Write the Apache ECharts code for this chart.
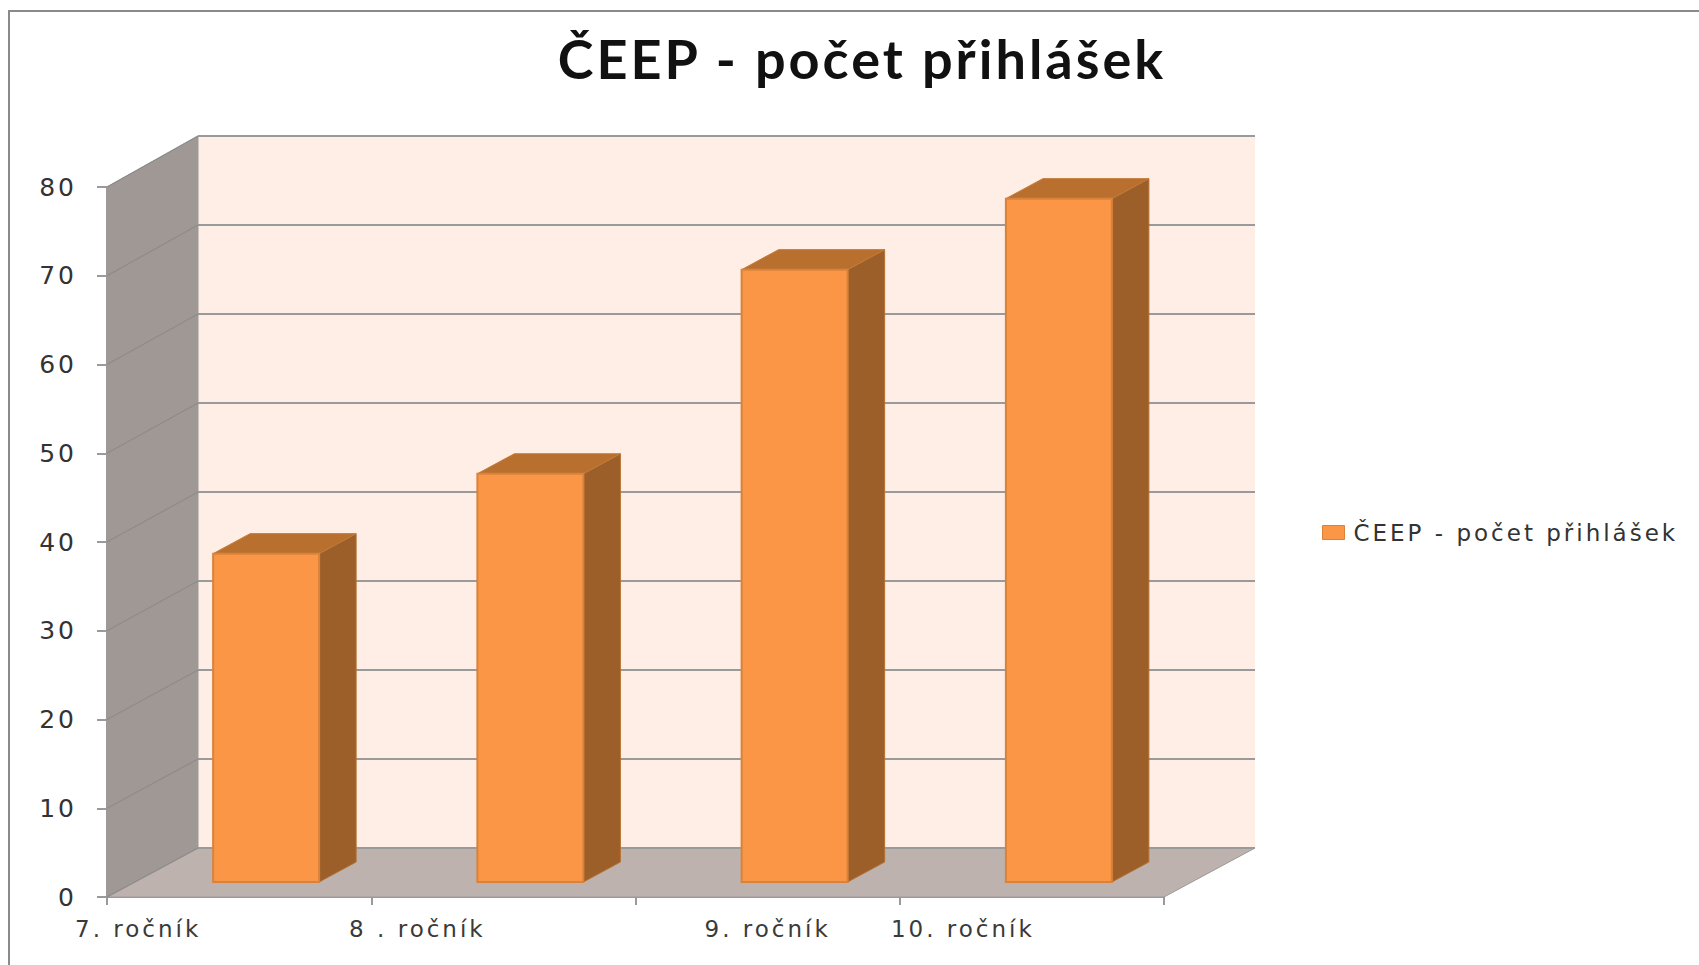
<!DOCTYPE html>
<html>
<head>
<meta charset="utf-8">
<title>ČEEP - počet přihlášek</title>
<style>
html, body { margin: 0; padding: 0; background: #fff; }
#charts { width: 1699px; height: 965px; }
/* original je roztazeny do sirky, proto prostrkani textu */
#charts text { letter-spacing: 3px; }
</style>
<script src="https://cdn.jsdelivr.net/npm/echarts@6/dist/echarts.min.js"></script>
</head>
<body>
<div id="charts"></div>
<script>
var categories = ['7. ročník', '8 . ročník', '9. ročník', '10. ročník'];
var prihlasky = [37, 46, 69, 77];
var yTicks = [0, 10, 20, 30, 40, 50, 60, 70, 80];
// popisky nejsou v originale vycentrovane, posun doleva v px
var labelShift = [101, 86, 0, 69];
var seriesName = 'ČEEP - počet přihlášek';
var chartTitle = 'ČEEP - počet přihlášek';

// hloubka 3D grafu
var depthX = 91, depthTop = -51, depthBottom = -49;
var barDepthX = 37, barDepthY = -20;
var barOffsetX = 27, barOffsetY = -15;
var barWidth = 106;

var gray = '#9a9a9a';
var sideGray = '#8c8c8a';

function poly(points, fill, stroke, width){
	return {
		type: 'polygon',
		shape: { points: points },
		style: { fill: fill, stroke: stroke, lineWidth: width || 1 }
	};
}

function line(points, color, width){
	return {
		type: 'polyline',
		shape: { points: points },
		style: { fill: 'none', stroke: color, lineWidth: width }
	};
}

function renderWalls(params, api){
	var cs = params.coordSys;
	var x0 = cs.x, x1 = cs.x + cs.width, yt = cs.y + depthTop, yb = cs.y + cs.height;
	var back = yb + depthBottom;
	return {
		type: 'group',
		children: [
			poly([[x0 + depthX, yt], [x1 + depthX, yt], [x1 + depthX, back], [x0 + depthX, back]], '#feeee6', 'none'),
			poly([[x0, cs.y], [x0 + depthX, yt], [x0 + depthX, back], [x0, yb]], '#a09895', gray),
			poly([[x0, yb], [x0 + depthX, back], [x1 + depthX, back], [x1, yb]], '#bdb2ae', gray)
		]
	};
}

function renderGrid(params, api){
	var cs = params.coordSys;
	var v = api.value(0);
	var y = api.coord([0, v])[1];
	var backY = y + depthBottom + (depthTop - depthBottom) * v / 80;
	return {
		type: 'group',
		children: [
			line([[cs.x + depthX, backY], [cs.x + cs.width + depthX, backY]], gray, 2),
			line([[cs.x, y], [cs.x + depthX, backY]], sideGray, 1.2)
		]
	};
}

function renderBar(params, api){
	var top = api.coord([api.value(0), api.value(1)]);
	var bottom = api.coord([api.value(0), 0]);
	var x0 = top[0] + barOffsetX - barWidth / 2;
	var x1 = x0 + barWidth;
	var yt = top[1] + barOffsetY;
	var yb = bottom[1] + barOffsetY;
	return {
		type: 'group',
		children: [
			poly([[x1, yt], [x1 + barDepthX, yt + barDepthY], [x1 + barDepthX, yb + barDepthY], [x1, yb]], '#9c5f2a', '#b5702f'),
			poly([[x0, yt], [x0 + barDepthX, yt + barDepthY], [x1 + barDepthX, yt + barDepthY], [x1, yt]], '#b9702f', '#c07a38'),
			poly([[x0, yt], [x1, yt], [x1, yb], [x0, yb]], '#fa9646', '#d9823c', 2)
		]
	};
}

var richLabels = {};
labelShift.forEach(function(shift, i){
	richLabels['l' + i] = {
		fontFamily: 'DejaVu Sans',
		fontSize: 23,
		color: '#3a3a3a',
		padding: [0, shift * 2, 0, 0]
	};
});

var myChart = echarts.init(document.getElementById('charts'), null, { renderer: 'svg' });

myChart.setOption({
	animation: false,
	backgroundColor: '#fff',
	title: {
		text: chartTitle,
		left: 862,
		top: 31,
		padding: 0,
		textAlign: 'center',
		textStyle: { fontFamily: 'Lato', fontWeight: 'bold', fontSize: 54, color: '#111' }
	},
	legend: {
		left: 1322,
		top: 521,
		padding: 0,
		itemWidth: 22,
		itemHeight: 14,
		itemGap: 0,
		textStyle: { fontFamily: 'DejaVu Sans', fontSize: 23, color: '#333', padding: [0, 0, 0, 4] },
		data: [{ name: seriesName, icon: 'rect', itemStyle: { color: '#fa9646', borderColor: '#d9823c', borderWidth: 1 } }]
	},
	grid: { left: 107, top: 187, width: 1057, height: 710 },
	xAxis: {
		type: 'category',
		data: categories,
		axisLine: { lineStyle: { color: gray, width: 2 } },
		axisTick: { show: true, length: 8, lineStyle: { color: gray, width: 2 } },
		axisLabel: {
			interval: 0,
			margin: 20,
			rich: richLabels,
			formatter: function(value, index){
				return '{l' + index + '|' + value + '}';
			}
		}
	},
	yAxis: {
		type: 'value',
		min: 0,
		max: 80,
		interval: 10,
		splitLine: { show: false },
		axisLine: { show: true, lineStyle: { color: gray, width: 2 } },
		axisTick: { show: true, length: 10, lineStyle: { color: gray, width: 2 } },
		axisLabel: { margin: 30, fontFamily: 'DejaVu Sans', fontSize: 25, color: '#333' }
	},
	series: [
		{ name: 'steny', type: 'custom', renderItem: renderWalls, data: [0], silent: true, z: 1 },
		{ name: 'mrizka', type: 'custom', renderItem: renderGrid, data: yTicks, encode: { y: 0 }, silent: true, z: 2 },
		{
			name: seriesName,
			type: 'custom',
			renderItem: renderBar,
			itemStyle: { color: '#fa9646' },
			encode: { x: 0, y: 1 },
			data: prihlasky.map(function(v, i){ return [i, v]; }),
			z: 3
		}
	],
	graphic: [{
		type: 'polyline',
		silent: true,
		shape: { points: [[9, 965], [9, 11], [1699, 11]] },
		style: { fill: 'none', stroke: '#8a8a8a', lineWidth: 2 }
	}]
});
</script>
</body>
</html>
